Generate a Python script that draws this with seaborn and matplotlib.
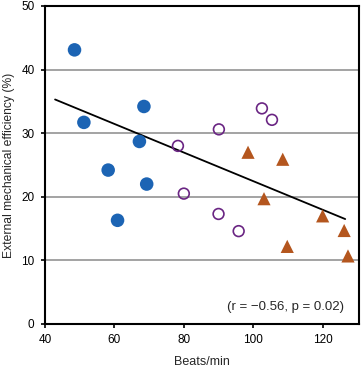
import matplotlib
matplotlib.use("Agg")
import matplotlib.pyplot as plt
import seaborn as sns

sns.set_theme(style="white")
plt.rcParams["font.family"] = ["Liberation Sans", "DejaVu Sans"]

# blue filled circles
blue_x = [48.5, 51.2, 58.2, 60.9, 67.2, 68.5, 69.3]
blue_y = [43.1, 31.7, 24.2, 16.3, 28.7, 34.2, 22.0]

# purple open circles
purple_x = [78.3, 80.0, 90.1, 90.0, 95.8, 102.5, 105.4]
purple_y = [28.0, 20.5, 30.6, 17.3, 14.6, 33.9, 32.1]

# brown triangles
brown_x = [98.5, 103.1, 108.5, 109.8, 120.0, 126.2, 127.3]
brown_y = [27.0, 19.7, 25.9, 12.2, 17.0, 14.7, 10.7]

# regression line end points
line_x = [42.9, 126.5]
line_y = [35.3, 16.5]

fig = plt.figure(figsize=(3.61, 3.67), dpi=100)
ax = fig.add_axes([0.1247, 0.1172, 0.870, 0.8665])

ax.yaxis.grid(True, color="#8a8a8a", lw=1.1)
ax.xaxis.grid(False)
ax.set_axisbelow(True)

sns.lineplot(x=line_x, y=line_y, color="black", lw=1.3, ax=ax, zorder=2)
sns.scatterplot(x=blue_x, y=blue_y, color="#1c64b4", s=95, edgecolor="none",
                ax=ax, zorder=3)
sns.scatterplot(x=purple_x, y=purple_y, marker="o", s=60, facecolors="none",
                edgecolor="#6a2583", linewidth=1.2, ax=ax, zorder=3)
sns.scatterplot(x=brown_x, y=brown_y, marker="^", color="#b4561e", s=90,
                edgecolor="none", ax=ax, zorder=3)

ax.set_xlim(40, 130.5)
ax.set_ylim(0, 50)
ax.set_xticks([40, 60, 80, 100, 120])
ax.set_yticks([0, 10, 20, 30, 40, 50])
ax.tick_params(direction="out", length=3, width=1.2, labelsize=8.5, pad=4.5,
               colors="black", left=True, bottom=True)
for sp in ax.spines.values():
    sp.set_color("black")
    sp.set_linewidth(1.5)

ax.set_xlabel("Beats/min", fontsize=9, labelpad=7)
ax.set_ylabel("External mechanical efficiency (%)", fontsize=8.7, labelpad=4.5)

ax.text(126.2, 2.7, "(r = \u22120.56, p = 0.02)", fontsize=9.5,
        ha="right", va="center")

fig.savefig("out.png", dpi=100)
